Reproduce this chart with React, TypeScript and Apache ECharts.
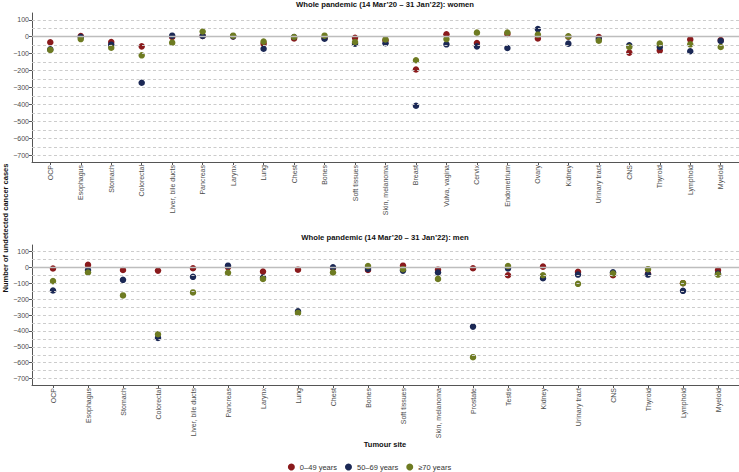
import React, { useEffect, useRef } from "react";
import * as echarts from "echarts";

const womenCats = [
  "OCP", "Esophagus", "Stomach", "Colorectal", "Liver, bile ducts", "Pancreas", "Larynx", "Lung",
  "Chest", "Bones", "Soft tissues", "Skin, melanoma", "Breast", "Vulva, vagina", "Cervix",
  "Endometrium", "Ovary", "Kidney", "Urinary tract", "CNS", "Thyroid", "Lymphoid", "Myeloid",
];
const womenYoung = [-33, 4, -31, -57, -2, 5, 2, -41, -10, -8, -6, -22, -194, 14, -37, 16, -10, 0, -2, -94, -82, -16, -20];
const womenMid = [-75, -2, -47, -272, 6, 4, 2, -71, -2, -12, -41, -39, -408, -45, -57, -67, 45, -41, -14, -51, -61, -86, -25];
const womenOld = [-78, -14, -65, -110, -35, 31, 6, -29, -2, 6, -31, -16, -139, -14, 24, 25, 12, 2, -24, -61, -41, -45, -61];

const menCats = [
  "OCP", "Esophagus", "Stomach", "Colorectal", "Liver, bile ducts", "Pancreas", "Larynx", "Lung",
  "Chest", "Bones", "Soft tissues", "Skin, melanoma", "Prostate", "Testis", "Kidney",
  "Urinary tract", "CNS", "Thyroid", "Lymphoid", "Myeloid",
];
const menYoung = [-8, 15, -17, -21, -6, 0, -27, -15, -5, -17, 10, -15, -6, -50, 4, -29, -50, -40, -100, -17];
const menMid = [-146, -17, -79, -444, -60, 10, -65, -277, 0, -10, -21, -33, -373, -8, -69, -46, -31, -46, -148, -40];
const menOld = [-87, -33, -177, -421, -158, -35, -73, -287, -33, 8, -12, -73, -565, 8, -50, -104, -40, -12, -100, -46];

const yTickValues = [-700, -600, -500, -400, -300, -200, -100, 0, 100];
const gridValues = [-700, -650, -600, -550, -500, -450, -400, -350, -300, -250, -200, -150, -100, -50, 0, 50, 100];

const seriesNames = ["0–49 years", "50–69 years", "≥70 years"];
const colors = ["#8a1a1c", "#1b2855", "#6e7b22"];

const FONT = '"Liberation Sans", Arial, sans-serif';

export default function App() {
  const ref = useRef<HTMLDivElement>(null);
  useEffect(() => {
    if (!ref.current) return;
    const chart = echarts.init(ref.current, null, { renderer: "svg" });

    const makeX = (cats: string[], gi: number) => {
      const idx = cats.map((_, i) => i);
      return {
        type: "value",
        gridIndex: gi,
        min: -0.6,
        max: cats.length - 0.4,
        axisLine: { show: true, onZero: false, lineStyle: { color: "#555", width: 1 } },
        axisTick: { show: true, customValues: idx, length: 3, lineStyle: { color: "#555" } },
        axisLabel: {
          customValues: idx,
          rotate: 90,
          fontSize: 7,
          color: "#4d4d4d",
          fontFamily: FONT,
          margin: 3,
          formatter: (v: number) => cats[Math.round(v)] ?? "",
        },
        splitLine: { show: false },
      };
    };
    const makeY = (gi: number) => ({
      type: "value",
      gridIndex: gi,
      min: -740,
      max: 140,
      axisLine: { show: true, onZero: false, lineStyle: { color: "#555", width: 1 } },
      axisTick: { show: true, customValues: yTickValues, length: 3, lineStyle: { color: "#555" } },
      axisLabel: {
        customValues: yTickValues,
        fontSize: 7,
        color: "#4d4d4d",
        fontFamily: FONT,
        margin: 3,
        formatter: (v: number) => String(v).replace("-", "\u2212"),
      },
      splitLine: { show: false },
    });

    const gridSeries = (gi: number) => ({
      type: "line",
      xAxisIndex: gi,
      yAxisIndex: gi,
      data: [[0, 0]],
      showSymbol: false,
      symbol: "none",
      lineStyle: { opacity: 0 },
      silent: true,
      z: 1,
      markLine: {
        silent: true,
        symbol: ["none", "none"],
        label: { show: false },
        animation: false,
        data: gridValues.map((v) => ({
          yAxis: v,
          lineStyle:
            v === 0
              ? { color: "#bdbdbd", type: "solid", width: 1.3 }
              : { color: "#cccccc", type: [3, 2.5], width: 1 },
        })),
      },
    });

    const scatter = (name: string, vals: number[], gi: number, color: string) => ({
      type: "scatter",
      name,
      xAxisIndex: gi,
      yAxisIndex: gi,
      data: vals.map((v, i) => [i, v]),
      symbol: "circle",
      symbolSize: 6.5,
      itemStyle: { color, opacity: 1 },
      z: 3,
    });

    const womenSets = [womenYoung, womenMid, womenOld];
    const menSets = [menYoung, menMid, menOld];

    const option: any = {
      animation: false,
      textStyle: { fontFamily: FONT },
      grid: [
        { left: 32, right: 0, top: 13, height: 149, containLabel: false },
        { left: 32, right: 0, top: 245, height: 140, containLabel: false },
      ],
      xAxis: [makeX(womenCats, 0), makeX(menCats, 1)],
      yAxis: [makeY(0), makeY(1)],
      legend: {
        data: seriesNames,
        left: "center",
        top: 463,
        padding: 0,
        icon: "circle",
        itemWidth: 7,
        itemHeight: 7,
        itemGap: 8,
        textStyle: { fontSize: 7.5, color: "#333", fontFamily: FONT },
      },
      graphic: [
        {
          type: "text",
          x: 385,
          y: 4.5,
          style: {
            text: "Whole pandemic (14 Mar\u201920 \u2013 31 Jan\u201922): women",
            font: `bold 7.7px ${FONT}`,
            fill: "#111",
            align: "center",
            verticalAlign: "middle",
          },
        },
        {
          type: "text",
          x: 385,
          y: 237,
          style: {
            text: "Whole pandemic (14 Mar\u201920 \u2013 31 Jan\u201922): men",
            font: `bold 7.7px ${FONT}`,
            fill: "#111",
            align: "center",
            verticalAlign: "middle",
          },
        },
        {
          type: "text",
          x: 5,
          y: 228,
          rotation: Math.PI / 2,
          style: {
            text: "Number of undetected cancer cases",
            font: `bold 7.5px ${FONT}`,
            fill: "#111",
            align: "center",
            verticalAlign: "middle",
          },
        },
        {
          type: "text",
          x: 385,
          y: 444,
          style: {
            text: "Tumour site",
            font: `bold 7.5px ${FONT}`,
            fill: "#111",
            align: "center",
            verticalAlign: "middle",
          },
        },
      ],
      series: [
        gridSeries(0),
        gridSeries(1),
        ...womenSets.map((vals, k) => scatter(seriesNames[k], vals, 0, colors[k])),
        ...menSets.map((vals, k) => scatter(seriesNames[k], vals, 1, colors[k])),
      ],
    };
    chart.setOption(option);
    return () => chart.dispose();
  }, []);
  return (
    <div
      ref={ref}
      style={{ position: "fixed", left: 0, top: 0, width: 739, height: 472, background: "#fff" }}
    />
  );
}
